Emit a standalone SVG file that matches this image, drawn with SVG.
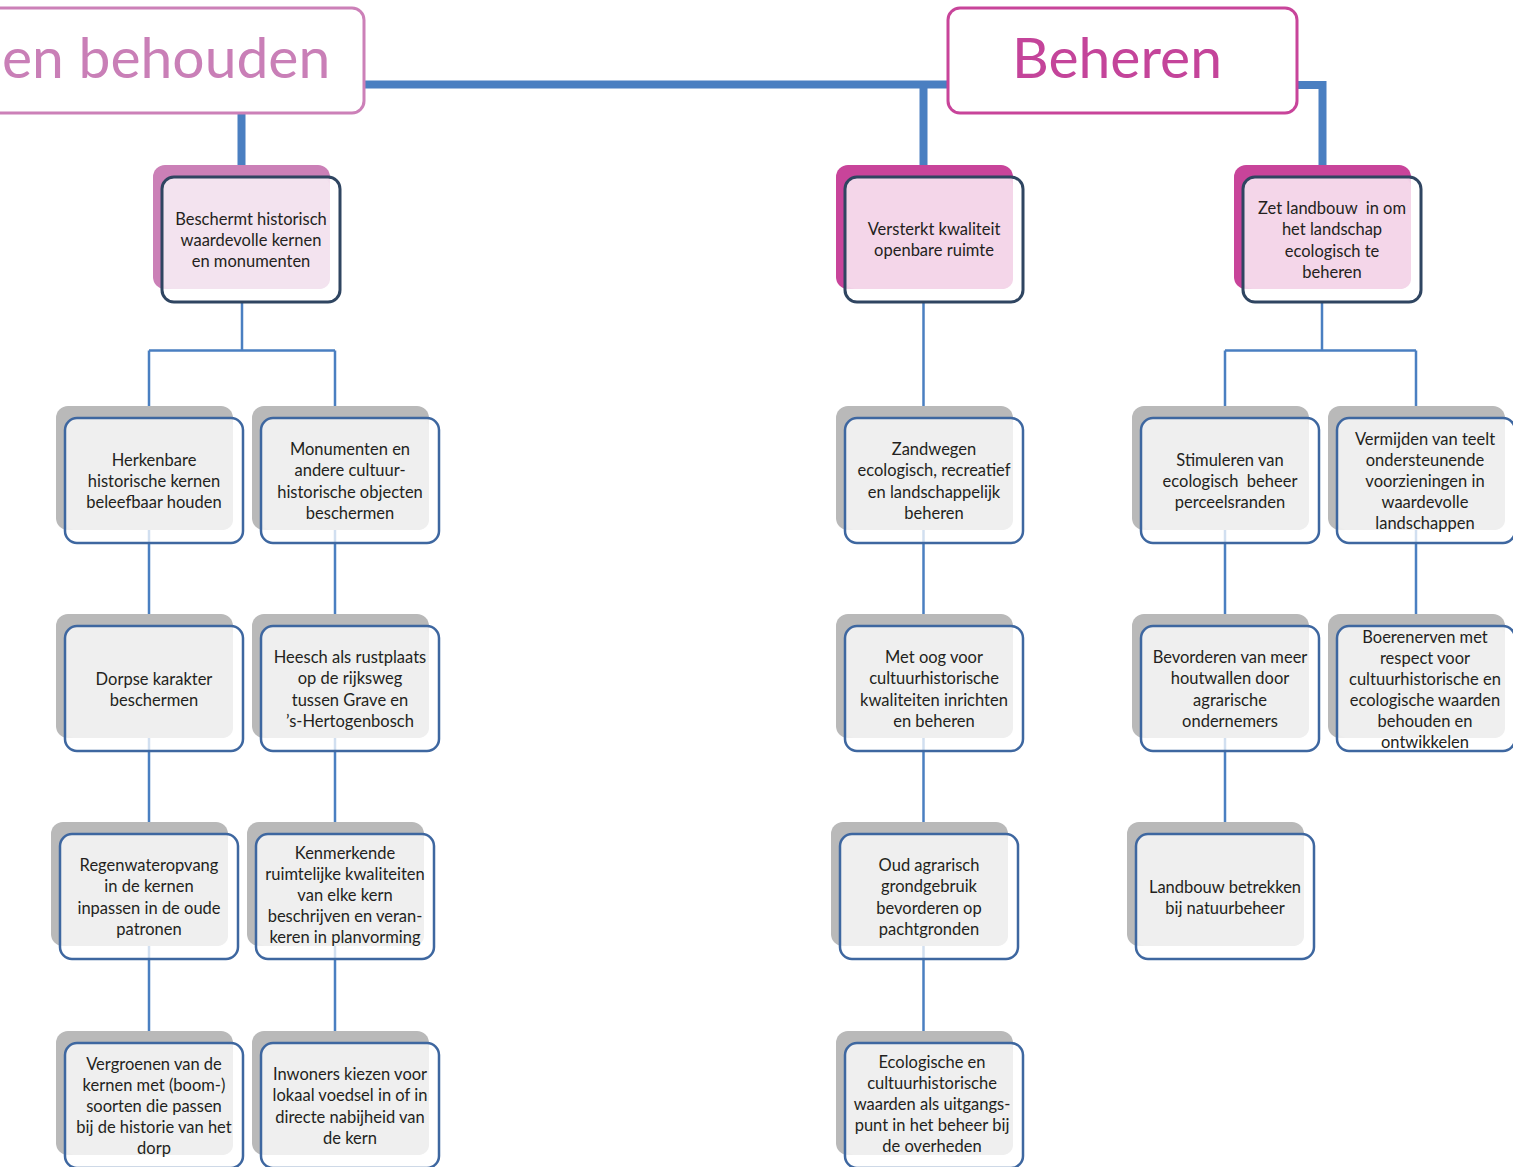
<svg xmlns="http://www.w3.org/2000/svg" width="1513" height="1167" viewBox="0 0 1513 1167">
<style>
  .thick{fill:none;stroke:#4a7fc1;stroke-width:8}
  .thin{fill:none;stroke:#4a7fc1;stroke-width:2.5}
  .bg-grey{fill:#b9b9b9}.bg-pink1{fill:#cb80b7}.bg-pink2{fill:#c8449a}
  .in-grey{fill:#efefef}.in-pink1{fill:#f3e3ef}.in-pink2{fill:#f4d6e9}
  .wh{fill:#ffffff;fill-opacity:.75}
  .ol-grey{fill:none;stroke:#3e67a0;stroke-width:2.5}
  .ol-dark{fill:none;stroke:#2f4561;stroke-width:3}
  .t{font-family:Lato,"Liberation Sans",sans-serif;font-size:16.5px;fill:#231f20;text-anchor:middle;dominant-baseline:central;white-space:pre}
  .title{font-family:Lato,"Liberation Sans",sans-serif;font-size:57px}
</style>
<g id="connectors">
  <path class="thin" d="M242 302V350.5M149 350.5H335M149 350.5V1040M335 350.5V1040"/>
  <path class="thin" d="M923.5 302V1040"/>
  <path class="thin" d="M1322 302V350.5M1225 350.5H1416M1225 350.5V830M1416 350.5V620"/>
  <path class="thick" d="M364 84.5H948M923.5 84.5V168M241.5 113V168M1297 85H1322.5V168"/>
</g>
<g id="title-left">
  <rect x="-20" y="8" width="384" height="105" rx="12" fill="#fff" stroke="#cc80b8" stroke-width="3"/>
  <text class="title" x="2" y="78" fill="#c97fb7">en behouden</text>
</g>
<g id="title-beheren">
  <rect x="948" y="8" width="349" height="105" rx="12" fill="#fff" stroke="#c8449a" stroke-width="3"/>
  <text class="title" x="1117" y="78" fill="#c4449a" text-anchor="middle">Beheren</text>
</g>

<g id="n-beschermt">
  <rect class="bg-pink1" x="153" y="165" width="177" height="124" rx="12"/>
  <rect class="wh" x="162" y="177" width="178" height="125" rx="12"/>
  <rect class="in-pink1" x="162" y="177" width="168" height="112" rx="10"/>
  <rect class="ol-dark" x="162" y="177" width="178" height="125" rx="12"/>
  <text class="t" x="251" y="218.5"><tspan x="251">Beschermt historisch</tspan><tspan x="251" dy="21.3">waardevolle kernen</tspan><tspan x="251" dy="21.3">en monumenten</tspan></text>
</g>
<g id="n-versterkt">
  <rect class="bg-pink2" x="836" y="165" width="177" height="124" rx="12"/>
  <rect class="wh" x="845" y="177" width="178" height="125" rx="12"/>
  <rect class="in-pink2" x="845" y="177" width="168" height="112" rx="10"/>
  <rect class="ol-dark" x="845" y="177" width="178" height="125" rx="12"/>
  <text class="t" x="934" y="229"><tspan x="934">Versterkt kwaliteit</tspan><tspan x="934" dy="21.3">openbare ruimte</tspan></text>
</g>
<g id="n-zet">
  <rect class="bg-pink2" x="1234" y="165" width="177" height="124" rx="12"/>
  <rect class="wh" x="1243" y="177" width="178" height="125" rx="12"/>
  <rect class="in-pink2" x="1243" y="177" width="168" height="112" rx="10"/>
  <rect class="ol-dark" x="1243" y="177" width="178" height="125" rx="12"/>
  <text class="t" x="1332" y="208"><tspan x="1332">Zet landbouw  in om</tspan><tspan x="1332" dy="21.3">het landschap</tspan><tspan x="1332" dy="21.3">ecologisch te</tspan><tspan x="1332" dy="21.3">beheren</tspan></text>
</g>

<g id="n-herkenbare">
  <rect class="bg-grey" x="56" y="406" width="177" height="124" rx="12"/>
  <rect class="wh" x="65" y="418" width="178" height="125" rx="12"/>
  <rect class="in-grey" x="65" y="418" width="168" height="112" rx="10"/>
  <rect class="ol-grey" x="65" y="418" width="178" height="125" rx="12"/>
  <text class="t" x="154" y="459.5"><tspan x="154">Herkenbare</tspan><tspan x="154" dy="21.3">historische kernen</tspan><tspan x="154" dy="21.3">beleefbaar houden</tspan></text>
</g>
<g id="n-monumenten">
  <rect class="bg-grey" x="252" y="406" width="177" height="124" rx="12"/>
  <rect class="wh" x="261" y="418" width="178" height="125" rx="12"/>
  <rect class="in-grey" x="261" y="418" width="168" height="112" rx="10"/>
  <rect class="ol-grey" x="261" y="418" width="178" height="125" rx="12"/>
  <text class="t" x="350" y="449"><tspan x="350">Monumenten en</tspan><tspan x="350" dy="21.3">andere cultuur-</tspan><tspan x="350" dy="21.3">historische objecten</tspan><tspan x="350" dy="21.3">beschermen</tspan></text>
</g>
<g id="n-zandwegen">
  <rect class="bg-grey" x="836" y="406" width="177" height="124" rx="12"/>
  <rect class="wh" x="845" y="418" width="178" height="125" rx="12"/>
  <rect class="in-grey" x="845" y="418" width="168" height="112" rx="10"/>
  <rect class="ol-grey" x="845" y="418" width="178" height="125" rx="12"/>
  <text class="t" x="934" y="449"><tspan x="934">Zandwegen</tspan><tspan x="934" dy="21.3">ecologisch, recreatief</tspan><tspan x="934" dy="21.3">en landschappelijk</tspan><tspan x="934" dy="21.3">beheren</tspan></text>
</g>
<g id="n-stimuleren">
  <rect class="bg-grey" x="1132" y="406" width="177" height="124" rx="12"/>
  <rect class="wh" x="1141" y="418" width="178" height="125" rx="12"/>
  <rect class="in-grey" x="1141" y="418" width="168" height="112" rx="10"/>
  <rect class="ol-grey" x="1141" y="418" width="178" height="125" rx="12"/>
  <text class="t" x="1230" y="459.5"><tspan x="1230">Stimuleren van</tspan><tspan x="1230" dy="21.3">ecologisch  beheer</tspan><tspan x="1230" dy="21.3">perceelsranden</tspan></text>
</g>
<g id="n-vermijden">
  <rect class="bg-grey" x="1328" y="406" width="177" height="124" rx="12"/>
  <rect class="wh" x="1337" y="418" width="178" height="125" rx="12"/>
  <rect class="in-grey" x="1337" y="418" width="168" height="112" rx="10"/>
  <rect class="ol-grey" x="1337" y="418" width="178" height="125" rx="12"/>
  <text class="t" x="1425" y="438.5"><tspan x="1425">Vermijden van teelt</tspan><tspan x="1425" dy="21.1">ondersteunende</tspan><tspan x="1425" dy="21.1">voorzieningen in</tspan><tspan x="1425" dy="21.1">waardevolle</tspan><tspan x="1425" dy="21.1">landschappen</tspan></text>
</g>

<g id="n-dorpse">
  <rect class="bg-grey" x="56" y="614" width="177" height="124" rx="12"/>
  <rect class="wh" x="65" y="626" width="178" height="125" rx="12"/>
  <rect class="in-grey" x="65" y="626" width="168" height="112" rx="10"/>
  <rect class="ol-grey" x="65" y="626" width="178" height="125" rx="12"/>
  <text class="t" x="154" y="678.5"><tspan x="154">Dorpse karakter</tspan><tspan x="154" dy="21.3">beschermen</tspan></text>
</g>
<g id="n-heesch">
  <rect class="bg-grey" x="252" y="614" width="177" height="124" rx="12"/>
  <rect class="wh" x="261" y="626" width="178" height="125" rx="12"/>
  <rect class="in-grey" x="261" y="626" width="168" height="112" rx="10"/>
  <rect class="ol-grey" x="261" y="626" width="178" height="125" rx="12"/>
  <text class="t" x="350" y="657"><tspan x="350">Heesch als rustplaats</tspan><tspan x="350" dy="21.3">op de rijksweg</tspan><tspan x="350" dy="21.3">tussen Grave en</tspan><tspan x="350" dy="21.3">’s-Hertogenbosch</tspan></text>
</g>
<g id="n-metoog">
  <rect class="bg-grey" x="836" y="614" width="177" height="124" rx="12"/>
  <rect class="wh" x="845" y="626" width="178" height="125" rx="12"/>
  <rect class="in-grey" x="845" y="626" width="168" height="112" rx="10"/>
  <rect class="ol-grey" x="845" y="626" width="178" height="125" rx="12"/>
  <text class="t" x="934" y="657"><tspan x="934">Met oog voor</tspan><tspan x="934" dy="21.3">cultuurhistorische</tspan><tspan x="934" dy="21.3">kwaliteiten inrichten</tspan><tspan x="934" dy="21.3">en beheren</tspan></text>
</g>
<g id="n-bevorderen">
  <rect class="bg-grey" x="1132" y="614" width="177" height="124" rx="12"/>
  <rect class="wh" x="1141" y="626" width="178" height="125" rx="12"/>
  <rect class="in-grey" x="1141" y="626" width="168" height="112" rx="10"/>
  <rect class="ol-grey" x="1141" y="626" width="178" height="125" rx="12"/>
  <text class="t" x="1230" y="657"><tspan x="1230">Bevorderen van meer</tspan><tspan x="1230" dy="21.3">houtwallen door</tspan><tspan x="1230" dy="21.3">agrarische</tspan><tspan x="1230" dy="21.3">ondernemers</tspan></text>
</g>
<g id="n-boerenerven">
  <rect class="bg-grey" x="1328" y="614" width="177" height="124" rx="12"/>
  <rect class="wh" x="1337" y="626" width="178" height="125" rx="12"/>
  <rect class="in-grey" x="1337" y="626" width="168" height="112" rx="10"/>
  <rect class="ol-grey" x="1337" y="626" width="178" height="125" rx="12"/>
  <text class="t" x="1425" y="636.5"><tspan x="1425">Boerenerven met</tspan><tspan x="1425" dy="21.1">respect voor</tspan><tspan x="1425" dy="21.1">cultuurhistorische en</tspan><tspan x="1425" dy="21.1">ecologische waarden</tspan><tspan x="1425" dy="21.1">behouden en</tspan><tspan x="1425" dy="21.1">ontwikkelen</tspan></text>
</g>

<g id="n-regenwater">
  <rect class="bg-grey" x="51" y="822" width="177" height="124" rx="12"/>
  <rect class="wh" x="60" y="834" width="178" height="125" rx="12"/>
  <rect class="in-grey" x="60" y="834" width="168" height="112" rx="10"/>
  <rect class="ol-grey" x="60" y="834" width="178" height="125" rx="12"/>
  <text class="t" x="149" y="865"><tspan x="149">Regenwateropvang</tspan><tspan x="149" dy="21.3">in de kernen</tspan><tspan x="149" dy="21.3">inpassen in de oude</tspan><tspan x="149" dy="21.3">patronen</tspan></text>
</g>
<g id="n-kenmerkende">
  <rect class="bg-grey" x="247" y="822" width="177" height="124" rx="12"/>
  <rect class="wh" x="256" y="834" width="178" height="125" rx="12"/>
  <rect class="in-grey" x="256" y="834" width="168" height="112" rx="10"/>
  <rect class="ol-grey" x="256" y="834" width="178" height="125" rx="12"/>
  <text class="t" x="345" y="852.5"><tspan x="345">Kenmerkende</tspan><tspan x="345" dy="21.1">ruimtelijke kwaliteiten</tspan><tspan x="345" dy="21.1">van elke kern</tspan><tspan x="345" dy="21.1">beschrijven en veran-</tspan><tspan x="345" dy="21.1">keren in planvorming</tspan></text>
</g>
<g id="n-oudagrarisch">
  <rect class="bg-grey" x="831" y="822" width="177" height="124" rx="12"/>
  <rect class="wh" x="840" y="834" width="178" height="125" rx="12"/>
  <rect class="in-grey" x="840" y="834" width="168" height="112" rx="10"/>
  <rect class="ol-grey" x="840" y="834" width="178" height="125" rx="12"/>
  <text class="t" x="929" y="865"><tspan x="929">Oud agrarisch</tspan><tspan x="929" dy="21.3">grondgebruik</tspan><tspan x="929" dy="21.3">bevorderen op</tspan><tspan x="929" dy="21.3">pachtgronden</tspan></text>
</g>
<g id="n-landbouw">
  <rect class="bg-grey" x="1127" y="822" width="177" height="124" rx="12"/>
  <rect class="wh" x="1136" y="834" width="178" height="125" rx="12"/>
  <rect class="in-grey" x="1136" y="834" width="168" height="112" rx="10"/>
  <rect class="ol-grey" x="1136" y="834" width="178" height="125" rx="12"/>
  <text class="t" x="1225" y="886.5"><tspan x="1225">Landbouw betrekken</tspan><tspan x="1225" dy="21.3">bij natuurbeheer</tspan></text>
</g>

<g id="n-vergroenen">
  <rect class="bg-grey" x="56" y="1031" width="177" height="124" rx="12"/>
  <rect class="wh" x="65" y="1043" width="178" height="125" rx="12"/>
  <rect class="in-grey" x="65" y="1043" width="168" height="112" rx="10"/>
  <rect class="ol-grey" x="65" y="1043" width="178" height="125" rx="12"/>
  <text class="t" x="154" y="1063.5"><tspan x="154">Vergroenen van de</tspan><tspan x="154" dy="21.1">kernen met (boom-)</tspan><tspan x="154" dy="21.1">soorten die passen</tspan><tspan x="154" dy="21.1">bij de historie van het</tspan><tspan x="154" dy="21.1">dorp</tspan></text>
</g>
<g id="n-inwoners">
  <rect class="bg-grey" x="252" y="1031" width="177" height="124" rx="12"/>
  <rect class="wh" x="261" y="1043" width="178" height="125" rx="12"/>
  <rect class="in-grey" x="261" y="1043" width="168" height="112" rx="10"/>
  <rect class="ol-grey" x="261" y="1043" width="178" height="125" rx="12"/>
  <text class="t" x="350" y="1074"><tspan x="350">Inwoners kiezen voor</tspan><tspan x="350" dy="21.3">lokaal voedsel in of in</tspan><tspan x="350" dy="21.3">directe nabijheid van</tspan><tspan x="350" dy="21.3">de kern</tspan></text>
</g>
<g id="n-ecologische">
  <rect class="bg-grey" x="836" y="1031" width="177" height="124" rx="12"/>
  <rect class="wh" x="845" y="1043" width="178" height="125" rx="12"/>
  <rect class="in-grey" x="845" y="1043" width="168" height="112" rx="10"/>
  <rect class="ol-grey" x="845" y="1043" width="178" height="125" rx="12"/>
  <text class="t" x="932" y="1061.5"><tspan x="932">Ecologische en</tspan><tspan x="932" dy="21.1">cultuurhistorische</tspan><tspan x="932" dy="21.1">waarden als uitgangs-</tspan><tspan x="932" dy="21.1">punt in het beheer bij</tspan><tspan x="932" dy="21.1">de overheden</tspan></text>
</g>
</svg>
